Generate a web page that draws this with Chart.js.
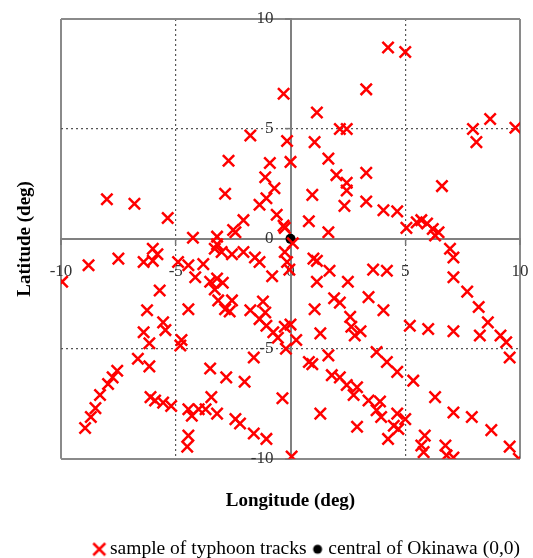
<!DOCTYPE html>
<html lang="en">
<head>
<meta charset="UTF-8" />
<title>Typhoon tracks around Okinawa</title>
<script src="https://cdn.jsdelivr.net/npm/chart.js@4"></script>
<style>
  body { margin: 0; background: #fff; overflow: hidden; }
  .chart-box { position: relative; width: 533px; height: 569px; }
</style>
</head>
<body>
<div class="chart-box"><canvas id="trackChart"></canvas></div>
<script>
  // typhoon track samples, degrees relative to Okinawa
  const trackLon = [
    -0.3, -1.75, -2.7, -0.9, -1.1, -0.7, -2.85, -1.05, -1.35, -8.0, -6.8, -5.35, -0.6, -2.05, -2.5, -0.3,
    -0.15, 0, 4.25, 5.0, 3.3, 1.15, 2.15, 2.45, 1.05, 1.65, 2.0, 2.45, 2.45, 2.35, 3.3, 3.3, 0.95, 0.8,
    1.65, 4.05, 4.65, 5.05, 5.5, 5.7, 5.95, 6.2, 6.45, 6.3, 6.6, 7.95, 8.1, 8.7, 9.8, -0.25, -2.4, -4.25, -3.2,
    -9.95, -8.8, -7.5, -6.4, -6.0, -6.0, -5.8, -3.3, -3.0, -3.2, -2.55, -2.05, -1.55, -1.35, -0.8, -0.15,
    -0.05, -4.9, -4.45, -4.15, -3.8, -3.5, -3.2, -2.95, -3.3, -3.15, -2.55, -2.85, -2.65, -1.75, -1.2, -1.1,
    -1.35, -1.05, -0.75, -0.55, -0.25, 0.0, -4.45, -4.75, -5.7, -6.25, -5.55, -5.45, -6.4, -6.15, -4.8,
    -6.65, -6.15, -7.55, -7.75, -7.95, -8.3, -8.5, -8.7, -8.95, -6.1, -5.9, -5.55, -5.2, -4.45, -4.3, -4.0,
    -3.7, -3.45, -3.2, -2.4, -2.2, -1.6, -1.05, -4.45, -4.5, -3.5, -2.8, -2.0, -1.6, -0.35, -0.2, 0.05,
    0.1, -0.25, 1.15, 1.0, 1.7, 1.15, 2.5, 3.6, 4.2, 3.4, 1.9, 2.15, 1.05, 2.6, 4.05, 1.3, 2.65, 3.05, 2.8,
    0.25, 0.8, 0.95, 1.65, 3.75, 4.2, 4.65, 5.35, 1.8, 2.15, 2.45, 2.9, 2.75, 3.4, 3.9, 3.75, 3.95, 4.65,
    5.0, 4.5, 4.7, 4.25, 2.9, 1.3, 6.95, 7.1, 7.1, 7.7, 8.2, 8.6, 5.2, 6.0, 7.1, 8.25, 9.15, 9.4, 9.55,
    6.3, 7.1, 7.9, 8.75, 9.55, 9.95, 5.85, 5.7, 5.8, 6.75, 6.8, 7.1
  ];
  const trackLat = [
    6.6, 4.7, 3.55, 3.45, 2.8, 2.3, 2.05, 1.85, 1.55, 1.8, 1.6, 0.95, 1.1, 0.85, 0.4, 0.6,
    4.45, 3.5, 8.7, 8.5, 6.8, 5.75, 5.0, 5.0, 4.4, 3.65, 2.9, 2.55, 2.2, 1.5, 3.0, 1.7, 2.0, 0.8,
    0.3, 1.3, 1.25, 0.5, 0.75, 0.85, 0.7, 0.45, 0.3, 0.15, 2.4, 5.0, 4.4, 5.45, 5.05, 0.5, 0.3, 0.05, 0.1,
    -1.95, -1.2, -0.9, -1.05, -0.45, -1.0, -0.7, -0.45, -0.6, -0.25, -0.7, -0.6, -0.85, -1.05, -1.7, -1.05,
    -1.4, -1.05, -1.2, -1.75, -1.15, -1.95, -1.8, -2.0, -2.3, -2.8, -2.8, -3.2, -3.3, -3.25, -2.85, -3.35,
    -3.65, -3.95, -4.25, -4.5, -4.0, -3.9, -3.2, -4.6, -2.35, -3.25, -3.8, -4.15, -4.25, -4.75, -4.85,
    -5.45, -5.8, -6.0, -6.3, -6.6, -7.1, -7.7, -8.1, -8.6, -7.2, -7.35, -7.45, -7.6, -7.75, -8.05, -7.75,
    -7.75, -7.2, -7.95, -8.2, -8.4, -8.85, -9.1, -8.95, -9.45, -5.9, -6.3, -6.5, -5.4, -7.25, -5.0, -9.9,
    -0.2, -0.6, -1.0, -0.9, -1.45, -1.95, -1.95, -1.4, -1.45, -2.65, -2.7, -2.9, -3.2, -3.55, -3.25, -4.3, -4.0, -4.2, -4.4,
    -4.6, -5.6, -5.7, -5.3, -5.15, -5.6, -6.05, -6.45, -6.2, -6.3, -6.65, -6.75, -7.1, -7.35, -7.4, -7.8, -8.1, -7.95,
    -8.2, -8.5, -8.65, -9.1, -8.55, -7.95, -0.45, -0.85, -1.75, -2.4, -3.1, -3.8, -3.95, -4.1, -4.2, -4.4, -4.4, -4.7, -5.4,
    -7.2, -7.9, -8.1, -8.7, -9.45, -10.0, -8.95, -9.4, -9.7, -9.4, -9.85, -9.95
  ];
  const okinawaLon = [0];
  const okinawaLat = [0];
  const tickValues = [-10, -5, 0, 5, 10];
  const seriesNames = ['sample of typhoon tracks', 'central of Okinawa (0,0)'];

  const serif = "'Liberation Serif', 'Times New Roman', serif";
  const isSolid = v => v === 0 || Math.abs(v) === 10;

  function makeIcon(kind) {
    const c = document.createElement('canvas');
    c.width = 16; c.height = 16;
    const g = c.getContext('2d');
    if (kind === 'x') {
      g.strokeStyle = '#ff0000';
      g.lineWidth = 2.5;
      g.beginPath();
      g.moveTo(2, 2); g.lineTo(14, 14);
      g.moveTo(14, 2); g.lineTo(2, 14);
      g.stroke();
    } else {
      g.fillStyle = '#000';
      g.beginPath();
      g.arc(8, 8, 4.5, 0, Math.PI * 2);
      g.fill();
    }
    return c;
  }
  const icons = [makeIcon('x'), makeIcon('dot')];

  function centerAxis(pad) {
    return {
      type: 'linear',
      position: 'center',
      min: -10,
      max: 10,
      afterBuildTicks: s => { s.ticks = tickValues.map(v => ({ value: v })); },
      // labels may hang over the frame; don't let them shrink the plot
      afterFit: s => { s.paddingLeft = s.paddingRight = s.paddingTop = s.paddingBottom = 0; },
      ticks: { autoSkip: false, padding: pad, color: '#333', font: { family: serif, size: 17 } },
      grid: {
        color: c => (c.tick && isSolid(c.tick.value)) ? '#8a8a8a' : '#555',
        lineWidth: c => (c.tick && isSolid(c.tick.value)) ? 2 : 1.2,
        tickLength: 5,
        tickColor: '#777',
        tickWidth: 1.5
      },
      border: {
        color: '#808080',
        width: 2,
        dash: c => (c.tick && Math.abs(c.tick.value) === 5) ? [2, 3] : []
      }
    };
  }

  function titleAxis(pos, text, padding) {
    return {
      type: 'linear',
      position: pos,
      display: true,
      ticks: { display: false },
      grid: { display: false, drawTicks: false },
      border: { display: false },
      title: { display: true, text: text, color: '#000', padding: padding,
               font: { family: serif, size: 19, weight: 'bold' } }
    };
  }

  // empty strip on the right so the legend can run wider than the plot
  const rightGap = {
    type: 'linear',
    position: 'right',
    display: true,
    ticks: { display: false },
    grid: { display: false, drawTicks: false },
    border: { display: false },
    afterFit: s => { s.width = 10; }
  };

  new Chart(document.getElementById('trackChart'), {
    type: 'scatter',
    data: {
      datasets: [{
        label: seriesNames[0],
        data: trackLon.map((x, i) => ({ x: x, y: trackLat[i] })),
        pointStyle: 'crossRot',
        pointRadius: 8,
        borderWidth: 2.5,
        borderColor: '#ff0000',
        backgroundColor: '#ff0000'
      }, {
        label: seriesNames[1],
        data: okinawaLon.map((x, i) => ({ x: x, y: okinawaLat[i] })),
        pointStyle: 'circle',
        pointRadius: 5,
        borderWidth: 0,
        backgroundColor: '#000'
      }]
    },
    options: {
      responsive: true,
      maintainAspectRatio: false,
      animation: false,
      events: [],
      layout: { padding: { top: 19, right: 3, left: 0, bottom: 0 } },
      scales: {
        x: centerAxis(17),
        y: centerAxis(12),
        xTitle: titleAxis('bottom', 'Longitude (deg)', { top: 31, bottom: 17 }),
        yTitle: titleAxis('left', 'Latitude (deg)', { top: 13.6, bottom: 24.6 }),
        rightGap: rightGap
      },
      plugins: {
        tooltip: { enabled: false },
        legend: {
          position: 'bottom',
          align: 'end',
          labels: {
            usePointStyle: true,
            boxWidth: 2,
            boxHeight: 14,
            padding: 10,
            color: '#000',
            font: { family: serif, size: 19.5 },
            generateLabels: chart => Chart.defaults.plugins.legend.labels.generateLabels(chart)
              .map((item, i) => Object.assign(item, { pointStyle: icons[i] }))
          }
        }
      }
    }
  });
</script>
</body>
</html>
